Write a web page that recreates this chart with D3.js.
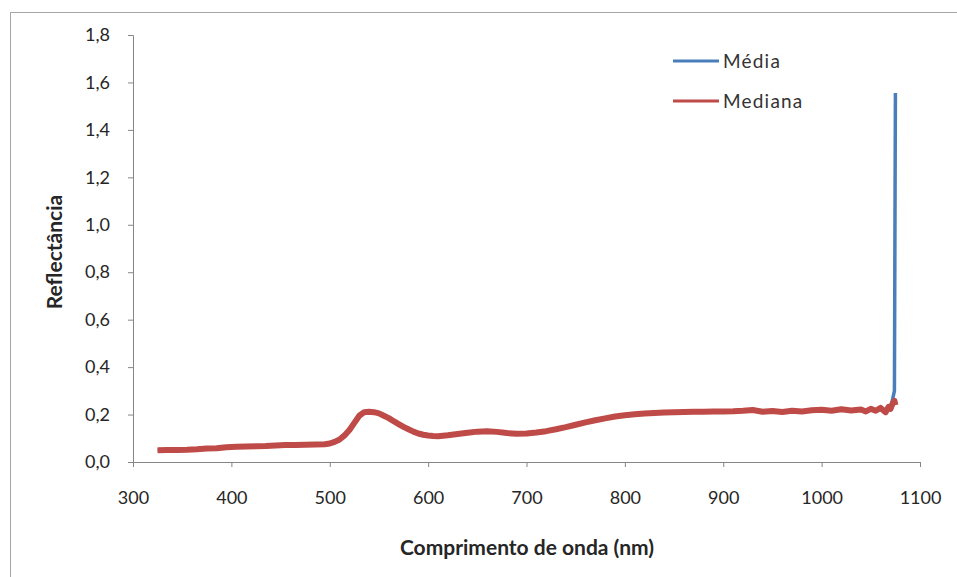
<!DOCTYPE html>
<html lang="pt">
<head>
<meta charset="UTF-8">
<title>Reflectância</title>
<style>
    body { margin: 0; background: #fff; }
    .axis path, .axis line { stroke: #868686; }
    .axis text { font-family: Lato, "Open Sans", sans-serif; font-size: 18px; fill: #262626; }
</style>
</head>
<body>
<script src="https://d3js.org/d3.v7.min.js"></script>
<script>
    // comprimento de onda (nm)
    var wavelengths = [325,335,345,355,365,375,385,395,405,415,425,435,445,455,465,475,485,495,500,505,
        510,515,520,525,530,535,540,545,550,555,560,565,570,575,580,585,590,595,600,605,610,615,620,
        630,640,650,660,670,680,690,700,710,720,730,740,750,760,770,780,790,800,810,820,830,840,850,
        860,870,880,890,900,910,920,930,940,950,960,970,980,990,1000,1010,1020,1030,1040,1045,1050,
        1055,1060,1065,1068,1070,1072,1074,1075];

    var mediana = [0.050,0.051,0.051,0.052,0.054,0.057,0.058,0.062,0.064,0.065,0.066,0.067,0.070,0.072,0.072,0.073,0.074,0.075,0.078,0.085,
        0.095,0.112,0.135,0.165,0.195,0.210,0.212,0.210,0.205,0.195,0.185,0.172,0.160,0.148,0.138,0.128,0.120,0.115,0.112,0.110,0.109,0.111,0.113,
        0.118,0.123,0.128,0.130,0.127,0.122,0.119,0.120,0.124,0.130,0.138,0.147,0.157,0.167,0.176,0.184,0.192,0.197,0.201,0.204,0.207,0.209,0.210,
        0.211,0.212,0.212,0.213,0.213,0.214,0.216,0.219,0.212,0.215,0.211,0.216,0.213,0.218,0.220,0.216,0.222,0.217,0.221,0.213,0.224,
        0.216,0.228,0.210,0.232,0.224,0.245,0.258,0.240];

    var media = [0.051,0.051,0.052,0.053,0.054,0.057,0.059,0.062,0.064,0.065,0.066,0.068,0.070,0.072,0.073,0.073,0.074,0.076,0.078,0.086,
        0.096,0.113,0.136,0.166,0.196,0.211,0.213,0.211,0.206,0.196,0.186,0.173,0.161,0.149,0.139,0.129,0.121,0.116,0.113,0.111,0.110,0.112,0.114,
        0.119,0.124,0.129,0.131,0.128,0.123,0.120,0.121,0.125,0.131,0.139,0.148,0.158,0.168,0.177,0.185,0.193,0.198,0.202,0.205,0.208,0.210,0.211,
        0.212,0.213,0.213,0.214,0.214,0.215,0.217,0.219,0.213,0.216,0.212,0.217,0.214,0.219,0.221,0.217,0.222,0.218,0.222,0.214,0.224,
        0.217,0.228,0.212,0.232,0.226,0.262,0.300,1.555];

    var xTicks = [300,400,500,600,700,800,900,1000,1100];
    var yTicks = [0,0.2,0.4,0.6,0.8,1.0,1.2,1.4,1.6,1.8];
    var seriesNames = ["Média", "Mediana"];
    var seriesColors = ["#4a7ebb", "#be4b48"];

    var w = 957, h = 577;
    var margin = {top: 35, right: 37, bottom: 115, left: 133};

    var svg = d3.select("body").append("svg")
        .attr("width", w)
        .attr("height", h);

    // moldura do gráfico
    svg.append("rect")
        .attr("x", 10.5).attr("y", 12.5)
        .attr("width", w).attr("height", h)
        .attr("fill", "none")
        .attr("stroke", "#a6a6a6");

    var x = d3.scaleLinear().domain([300, 1100]).range([margin.left, w - margin.right]);
    var y = d3.scaleLinear().domain([0, 1.8]).range([h - margin.bottom, margin.top]);

    var fmt = function(d) { return d3.format(".1f")(d).replace(".", ","); };

    svg.append("g")
        .attr("class", "axis")
        .attr("transform", "translate(0," + y(0) + ")")
        .call(d3.axisBottom(x).tickValues(xTicks).tickSize(5).tickSizeOuter(5).tickPadding(24).tickFormat(d3.format("d")));

    svg.append("g")
        .attr("class", "axis")
        .attr("transform", "translate(" + x(300) + ",0)")
        .call(d3.axisLeft(y).tickValues(yTicks).tickSize(5).tickSizeOuter(5).tickPadding(18).tickFormat(fmt));

    var line = d3.line()
        .x(function(d) { return x(d[0]); })
        .y(function(d) { return y(d[1]); });

    var seriesData = [media, mediana];
    var widths = [3.5, 6];

    seriesData.forEach(function(vals, i) {
        svg.append("path")
            .datum(wavelengths.map(function(wl, j) { return [wl, vals[j]]; }))
            .attr("fill", "none")
            .attr("stroke", seriesColors[i])
            .attr("stroke-width", widths[i])
            .attr("stroke-linejoin", "round")
            .attr("d", line);
    });

    // legenda
    var legend = svg.append("g").attr("transform", "translate(673,61)");
    seriesNames.forEach(function(name, i) {
        var g = legend.append("g").attr("transform", "translate(0," + (i * 40) + ")");
        g.append("line")
            .attr("x1", 0).attr("x2", 46)
            .attr("stroke", seriesColors[i])
            .attr("stroke-width", 3);
        g.append("text")
            .attr("x", 50).attr("y", 7)
            .style("font-family", "Lato, sans-serif")
            .style("font-size", "19px")
            .style("letter-spacing", "1.2px")
            .attr("fill", "#333")
            .text(name);
    });

    // títulos dos eixos
    svg.append("text")
        .attr("x", 527).attr("y", 555)
        .attr("text-anchor", "middle")
        .style("font-family", "Lato, sans-serif")
        .style("font-weight", "bold")
        .style("font-size", "21px")
        .attr("fill", "#262626")
        .text("Comprimento de onda (nm)");

    svg.append("text")
        .attr("transform", "translate(62,252) rotate(-90)")
        .attr("text-anchor", "middle")
        .style("font-family", "Lato, sans-serif")
        .style("font-weight", "bold")
        .style("font-size", "21px")
        .attr("fill", "#262626")
        .text("Reflectância");
</script>
</body>
</html>
